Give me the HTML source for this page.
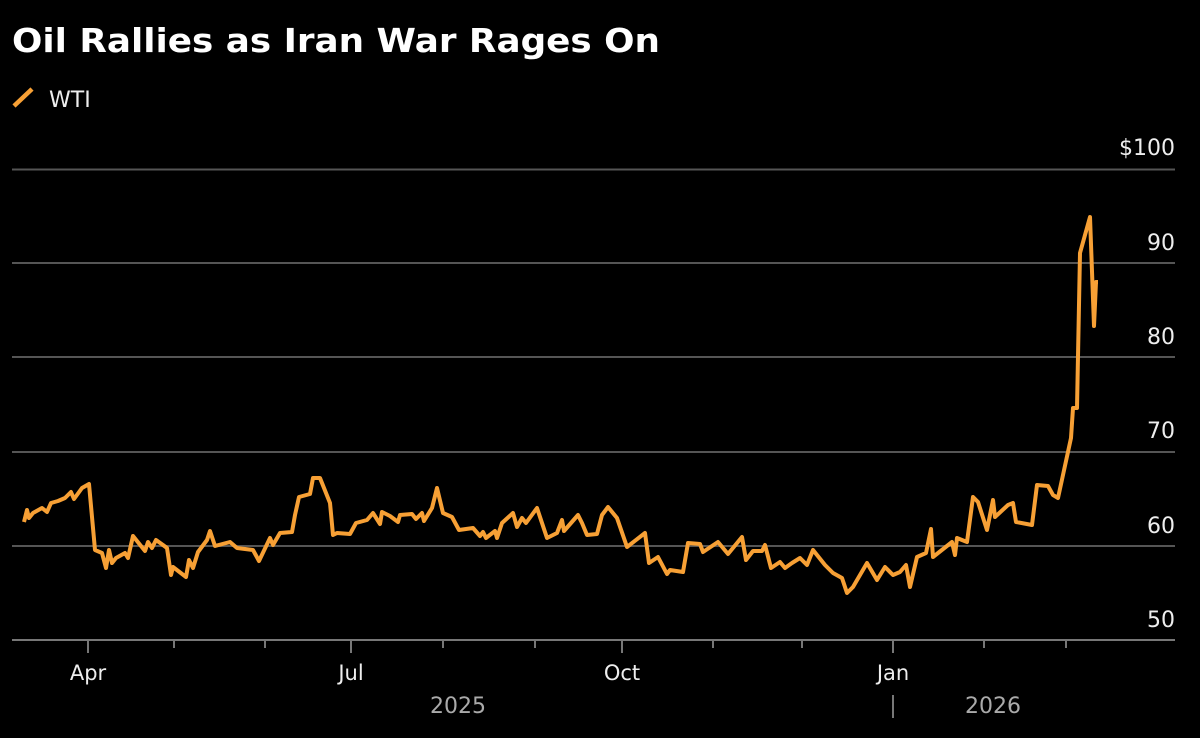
<!DOCTYPE html>
<html><head><meta charset="utf-8"><style>
html,body{margin:0;padding:0;background:#000;}
svg{display:block;}
text{font-family:"DejaVu Sans","Liberation Sans",sans-serif;}
</style></head><body>
<svg width="1200" height="738" viewBox="0 0 1200 738" xmlns="http://www.w3.org/2000/svg">
<rect width="1200" height="738" fill="#000"/>
<text x="12" y="52" font-size="33" font-weight="bold" fill="#fff" textLength="648" lengthAdjust="spacingAndGlyphs">Oil Rallies as Iran War Rages On</text>
<line x1="14" y1="106" x2="32" y2="89" stroke="#f7a035" stroke-width="4.5"/>
<text x="49" y="107" font-size="22" fill="#eee">WTI</text>
<g stroke="#555" stroke-width="2">
<line x1="12" y1="169.5" x2="1175" y2="169.5"/>
<line x1="12" y1="263" x2="1175" y2="263"/>
<line x1="12" y1="357" x2="1175" y2="357"/>
<line x1="12" y1="452" x2="1175" y2="452"/>
<line x1="12" y1="546" x2="1175" y2="546"/>
</g>
<line x1="12" y1="640" x2="1175" y2="640" stroke="#777" stroke-width="2"/>
<g stroke="#777" stroke-width="2">
<line x1="88" y1="640" x2="88" y2="653"/><line x1="351" y1="640" x2="351" y2="653"/>
<line x1="622" y1="640" x2="622" y2="653"/><line x1="893" y1="640" x2="893" y2="653"/>
<line x1="174" y1="640" x2="174" y2="648"/><line x1="265" y1="640" x2="265" y2="648"/>
<line x1="443" y1="640" x2="443" y2="648"/><line x1="535" y1="640" x2="535" y2="648"/>
<line x1="713" y1="640" x2="713" y2="648"/><line x1="802" y1="640" x2="802" y2="648"/>
<line x1="984" y1="640" x2="984" y2="648"/><line x1="1066" y1="640" x2="1066" y2="648"/>
<line x1="893" y1="695" x2="893" y2="718"/>
</g>
<g font-size="22" fill="#eee" text-anchor="end">
<text x="1175" y="155">$100</text>
<text x="1175" y="250">90</text>
<text x="1175" y="344">80</text>
<text x="1175" y="438">70</text>
<text x="1175" y="533">60</text>
<text x="1175" y="627">50</text>
</g>
<g font-size="21" fill="#eee" text-anchor="middle">
<text x="88" y="680">Apr</text><text x="351" y="680">Jul</text>
<text x="622" y="680">Oct</text><text x="893" y="680">Jan</text>
</g>
<g font-size="22" fill="#aaa" text-anchor="middle">
<text x="458" y="713">2025</text><text x="993" y="713">2026</text>
</g>
<polyline fill="none" stroke="#f7a035" stroke-width="4" stroke-linejoin="round" points="24,522 27,510 29,518 33,513 42,508 47,512 51,503 58,501 65,498 71,492 74,499 82,488 89,484 95,550 102,553 106,568 109,550 112,563 116,558 125,553 128,558 133,536 145,551 148,542 152,548 156,540 163,545 167,548 171,575 173,567 186,577 189,560 193,568 198,552 207,540 210,531 215,546 230,542 237,548 253,550 259,561 270,538 273,545 280,533 292,532 295,515 299,497 310,494 313,478 320,478 330,503 333,535 337,533 350,534 356,523 367,520 373,513 380,524 382,512 390,516 398,522 400,515 412,514 416,519 422,513 424,521 432,508 437,488 443,513 452,517 459,530 473,528 480,536 483,532 486,538 495,531 497,538 502,523 513,513 517,527 522,518 526,523 537,508 547,538 557,533 562,520 564,531 578,515 582,523 587,535 597,534 602,515 608,507 617,518 627,547 645,533 649,563 658,557 667,574 670,570 683,572 688,543 700,544 703,552 718,542 728,554 742,537 746,560 753,551 762,551 765,545 771,568 780,562 785,568 792,563 800,558 807,565 813,550 825,565 833,573 842,578 847,593 853,587 867,563 877,580 885,567 893,575 900,572 906,565 910,587 917,557 926,553 931,529 933,557 952,542 955,555 957,538 967,542 973,497 978,502 987,530 993,500 995,517 1008,505 1013,503 1016,522 1032,525 1037,485 1048,486 1053,495 1058,498 1071,438 1073,408 1077,408 1080,253 1090,217 1094,326 1096,282 1098,282"/>
</svg>
</body></html>
